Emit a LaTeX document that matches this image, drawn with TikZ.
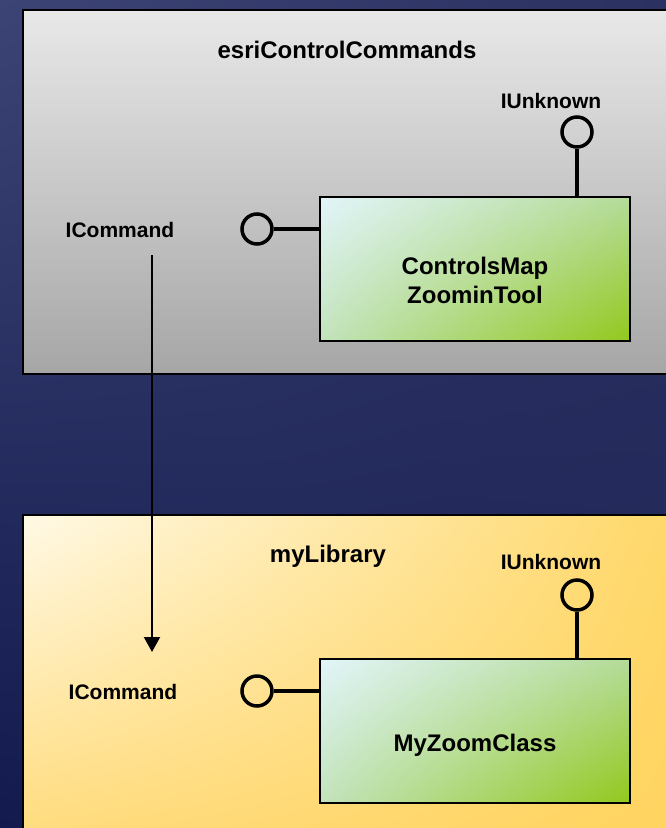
\documentclass[tikz,border=0pt]{standalone}
\usepackage{fontspec}
\setmainfont{Liberation Sans}
\usetikzlibrary{arrows.meta,shadings}

\definecolor{bgUL}{HTML}{3C4475}
\definecolor{bgUR}{HTML}{2B3161}
\definecolor{bgLL}{HTML}{121A4E}
\definecolor{bgLR}{HTML}{1F2556}
\definecolor{grayTop}{HTML}{E8E8E8}
\definecolor{grayBot}{HTML}{A6A6A6}
\definecolor{ylUL}{HTML}{FFF9E6}
\definecolor{ylUR}{HTML}{FFD766}
\definecolor{ylLL}{HTML}{FFDA78}
\definecolor{ylLR}{HTML}{FFD35E}
\definecolor{grUL}{HTML}{E2F5FA}
\definecolor{grUR}{HTML}{B4DB98}
\definecolor{grLL}{HTML}{C2E3BC}
\definecolor{grLR}{HTML}{93C81C}

\begin{document}
\begin{tikzpicture}[x=1pt,y=-1pt,
  lbl/.style={font=\bfseries\fontsize{21}{25}\selectfont, inner sep=0pt, anchor=base},
  ttl/.style={font=\bfseries\fontsize{24}{29}\selectfont, inner sep=0pt, align=center},
  lolli/.style={circle, draw=black, line width=3.5pt, minimum size=30pt, inner sep=0pt},
  stem/.style={line width=3.5pt},
  comp/.style={draw=black, line width=2pt, minimum width=310pt, minimum height=144pt,
    inner sep=0pt, upper left=grUL, upper right=grUR, lower left=grLL, lower right=grLR},
  pkg/.style={draw=black, line width=2pt},
  dep/.style={line width=2.2pt, -{Triangle[width=16pt,length=15pt]}}
]
\useasboundingbox (0,0) rectangle (666,828);
\clip (0,0) rectangle (666,828);

% backdrop
\fill[upper left=bgUL, upper right=bgUR, lower left=bgLL, lower right=bgLR]
  (0,0) rectangle (666,828);

% package esriControlCommands
\draw[pkg, top color=grayTop, bottom color=grayBot] (23,10) rectangle (690,374);
\node[ttl, anchor=base] (pkgA) at (347,58) {esriControlCommands};
\node[lbl] (iuA) at (551,108) {IUnknown};
\node[lbl] (icA) at (120,237) {ICommand};
\node[comp] (compA) at (475,269) {};
\node[ttl] (compAtxt) at (475,280) {ControlsMap\\ZoominTool};
\node[lolli] (lolA1) at (577,132) {};
\node[lolli] (lolA2) at (257,229) {};
\draw[stem] (lolA1.south) -- (lolA1.south |- compA.north);
\draw[stem] (lolA2.east) -- (lolA2.east -| compA.west);

% package myLibrary
\draw[pkg, upper left=ylUL, upper right=ylUR, lower left=ylLL, lower right=ylLR]
  (23,515) rectangle (690,850);
\node[ttl, anchor=base] (pkgB) at (328,562) {myLibrary};
\node[lbl] (iuB) at (551,569) {IUnknown};
\node[lbl] (icB) at (123,699) {ICommand};
\node[comp] (compB) at (475,731) {};
\node[ttl, anchor=base] (compBtxt) at (475,751) {MyZoomClass};
\node[lolli] (lolB1) at (577,595) {};
\node[lolli] (lolB2) at (257,691) {};
\draw[stem] (lolB1.south) -- (lolB1.south |- compB.north);
\draw[stem] (lolB2.east) -- (lolB2.east -| compB.west);

% ICommand dependency
\coordinate (depFrom) at (152,255);
\coordinate (depTo) at (152,652);
\draw[dep] (depFrom) -- (depTo);
\end{tikzpicture}
\end{document}
